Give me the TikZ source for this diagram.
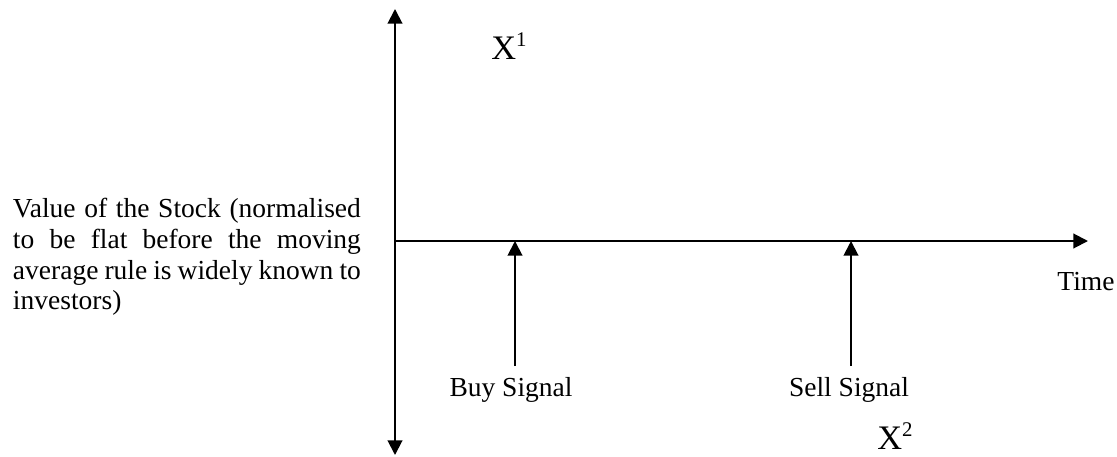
\documentclass[tikz,border=0pt]{standalone}
\usepackage{fontspec}
\setmainfont{Liberation Serif}
\usetikzlibrary{arrows.meta}
\newcommand{\supidx}[1]{\raisebox{6.2pt}{\fontsize{10}{10}\selectfont#1}}
\begin{document}
\begin{tikzpicture}[x=.48pt,y=-.48pt,line width=.95pt,
  axarrow/.style={-{Triangle[length=7pt,width=7pt]}},
  lbl/.style={inner sep=0pt,font=\fontsize{13.2}{14.75}\selectfont},
  xlbl/.style={inner sep=0pt,font=\fontsize{16.5}{20}\selectfont}]
\useasboundingbox (0,0) rectangle (1117,456);
\coordinate (o) at (395,241);
\coordinate (ytop) at (395,9);
\coordinate (ybot) at (395,455);
\coordinate (xend) at (1088,241);
\coordinate (buy) at (515,241);
\coordinate (sell) at (851,241);
\draw[axarrow] (o)--(ytop);
\draw[axarrow] (o)--(ybot);
\draw[axarrow] (o)--(xend);
\node[lbl] (buylbl) at (511,390) {Buy Signal};
\node[lbl] (selllbl) at (849,390) {Sell Signal};
\draw[axarrow] (515,366)--(buy);
\draw[axarrow] (851,366)--(sell);
\node[xlbl] (x1) at (509,46) {X\supidx{1}};
\node[xlbl] (x2) at (895,436) {X\supidx{2}};
\node[lbl] (time) at (1086,282) {Time};
\node[lbl,anchor=west,text width=167pt,align=justify] (value) at (12,257)
  {Value of the Stock (normalised\linebreak to be flat before the moving\linebreak average rule is widely known to\linebreak investors)};
\end{tikzpicture}
\end{document}
